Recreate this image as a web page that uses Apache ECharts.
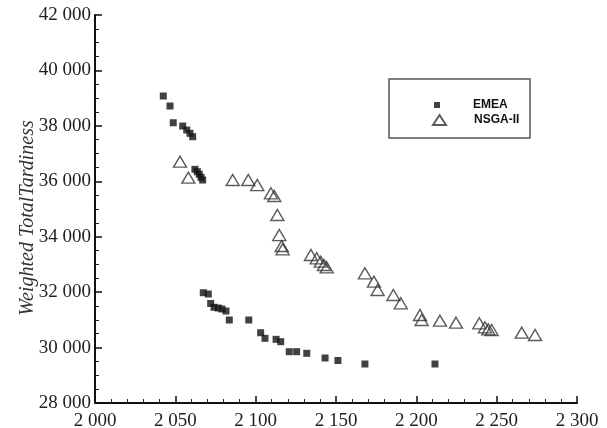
<!DOCTYPE html>
<html>
<head>
<meta charset="utf-8">
<script src="https://cdn.jsdelivr.net/npm/echarts@6/dist/echarts.min.js"></script>
<style>
  html, body { margin: 0; padding: 0; background: #fff; }
  #main { width: 607px; height: 428px; }
</style>
</head>
<body>
<div id="main"></div>
<script>
// Makespan (x) vs weighted total tardiness (y)
var emeaX = [2042.5, 2046.7, 2048.7, 2054.6, 2057.1, 2059.1, 2060.8, 2062.2, 2063.7, 2064.9, 2066.0, 2067.0,
  2067.4, 2070.5, 2072.0, 2074.1, 2076.7, 2079.0, 2081.5, 2083.6, 2095.7, 2103.1, 2105.8, 2112.7, 2115.6,
  2120.9, 2125.5, 2131.8, 2143.2, 2151.2, 2168.0, 2211.6];
var emeaY = [39077, 38716, 38113, 37994, 37850, 37731, 37608, 36432, 36345, 36252, 36143, 36046,
  31980, 31933, 31590, 31453, 31428, 31392, 31319, 30995, 30995, 30536, 30334, 30298, 30212,
  29851, 29851, 29793, 29624, 29533, 29407, 29407];

var nsgaX = [2052.9, 2058.1, 2085.7, 2095.4, 2101.0, 2109.5, 2111.6, 2113.5, 2114.7, 2116.2, 2116.8,
  2134.4, 2138.0, 2140.5, 2142.5, 2144.2, 2168.0, 2173.6, 2175.9, 2185.7, 2190.3, 2202.3, 2203.3,
  2214.7, 2224.7, 2239.2, 2242.7, 2244.8, 2246.9, 2265.6, 2273.9];
var nsgaY = [36706, 36129, 36046, 36046, 35865, 35566, 35469, 34783, 34061, 33665, 33546,
  33340, 33221, 33098, 32979, 32896, 32680, 32377, 32077, 31897, 31597, 31175, 30995,
  30969, 30897, 30876, 30731, 30659, 30634, 30536, 30453];

var seriesNames = ['EMEA', 'NSGA-II'];
var yAxisName = 'Weighted TotalTardiness';

function pairs(xs, ys) {
  return xs.map(function (x, i) { return [x, ys[i]]; });
}
function spaced(v) {
  return String(v).replace(/\B(?=(\d{3})+(?!\d))/g, ' ');
}

var serif = '"Liberation Serif", "DejaVu Serif", serif';
var sans = '"Liberation Sans", Arial, sans-serif';

var axisCommon = {
  axisLine: { lineStyle: { color: '#111', width: 2 } },
  axisTick: { inside: true, length: 7, lineStyle: { color: '#111', width: 1.5 } },
  minorTick: { show: true, length: 4, lineStyle: { color: '#222', width: 1 } },
  splitLine: { show: false },
  axisLabel: { color: '#222', fontFamily: serif, fontSize: 19, formatter: spaced }
};

var legendText = { color: '#111', fontFamily: sans, fontWeight: 'bold', fontSize: 12 };

var myChart = echarts.init(document.getElementById('main'));

var option = {
  backgroundColor: '#fff',
  animation: false,
  grid: { left: 95, right: 30, top: 15, bottom: 25, containLabel: false, outerBoundsMode: 'none' },
  xAxis: Object.assign({}, axisCommon, {
    type: 'value',
    min: 2000,
    max: 2300,
    interval: 50,
    minorTick: Object.assign({}, axisCommon.minorTick, { splitNumber: 5 }),
    axisLabel: Object.assign({}, axisCommon.axisLabel, { margin: 9 })
  }),
  yAxis: Object.assign({}, axisCommon, {
    type: 'value',
    min: 28000,
    max: 42000,
    interval: 2000,
    name: yAxisName,
    nameLocation: 'middle',
    nameGap: 57,
    nameMoveOverlap: false,
    nameTextStyle: { color: '#333', fontFamily: serif, fontStyle: 'italic', fontSize: 20,
      padding: [0, 18, 0, 0] },
    minorTick: Object.assign({}, axisCommon.minorTick, { splitNumber: 4 }),
    axisLabel: Object.assign({}, axisCommon.axisLabel, { margin: 4 })
  }),
  legend: [{
    data: [{ name: seriesNames[0], icon: 'rect' }],
    left: 429, top: 94,
    itemWidth: 6, itemHeight: 6,
    formatter: '{t|{name}}',
    textStyle: Object.assign({}, legendText, {
      rich: { t: Object.assign({ padding: [0, 0, 0, 28] }, legendText) } })
  }, {
    data: [{ name: seriesNames[1], icon: 'triangle' }],
    left: 427, top: 109,
    itemWidth: 13, itemHeight: 10,
    symbolKeepAspect: false,
    formatter: '{t|{name}}',
    textStyle: Object.assign({}, legendText, {
      rich: { t: Object.assign({ padding: [0, 0, 0, 23] }, legendText) } })
  }],
  graphic: [{
    type: 'rect',
    shape: { x: 389, y: 79, width: 141, height: 59 },
    style: { fill: 'none', stroke: '#555', lineWidth: 1.5 },
    silent: true
  }],
  series: [{
    name: seriesNames[0],
    type: 'scatter',
    symbol: 'rect',
    symbolSize: 7,
    itemStyle: { color: '#111' },
    data: pairs(emeaX, emeaY),
    z: 3
  }, {
    name: seriesNames[1],
    type: 'scatter',
    symbol: 'triangle',
    symbolSize: [13, 11],
    itemStyle: { color: 'rgba(255,255,255,0)', borderColor: '#333', borderWidth: 1.4 },
    data: pairs(nsgaX, nsgaY),
    z: 2
  }]
};

myChart.setOption(option);
</script>
</body>
</html>
